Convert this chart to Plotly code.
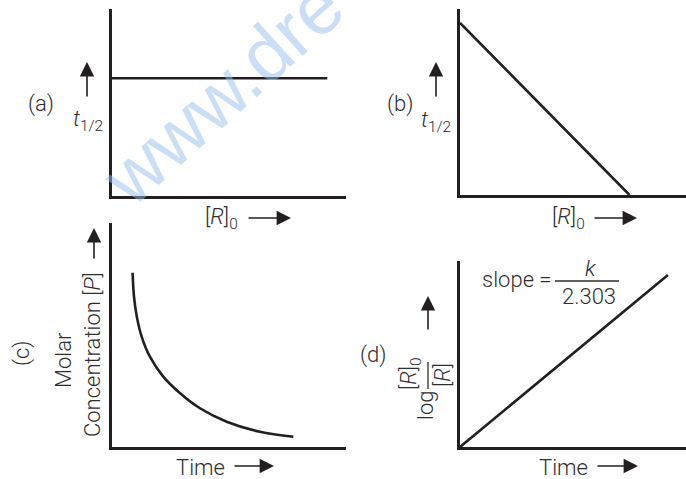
import plotly.graph_objects as go

W, H = 686, 479
LINE = '#231f20'
TXT = '#2e2e2e'
FONT = 'Roboto, Liberation Sans, Arial, sans-serif'

# (a) half-life does not depend on [R]0
a_conc = [0, 9.2]
a_thalf = [6.3, 6.3]
# (b) half-life falls with [R]0
b_conc = [0, 7.5]
b_thalf = [9.25, 0]
# (c) molar concentration vs time
c_time = [0.88, 0.94, 1.06, 1.27, 1.62, 2.19, 2.91, 3.76, 4.90, 6.32, 7.75]
c_conc = [7.78, 6.71, 5.82, 4.92, 4.03, 3.14, 2.40, 1.73, 1.13, 0.68, 0.46]
# (d) log([R]0/[R]) vs time
d_time = [0, 9.2]
d_log = [0, 9.25]

series = [(a_conc, a_thalf, False), (b_conc, b_thalf, False),
          (c_time, c_conc, True), (d_time, d_log, False)]

# panel boxes in pixels: (x0, x1), (ytop, ybottom)
boxes = [((112, 346), (9, 196)), ((460, 686), (9, 195)),
         ((112, 346), (223, 447)), ((460, 686), (261, 447))]


def px(x):
  return x / W


def py(y):
  return 1 - y / H


fig = go.Figure()
layout = {}
for i, ((xs, ys, smooth), ((x0, x1), (yt, yb))) in enumerate(zip(series, boxes)):
  n = '' if i == 0 else str(i + 1)
  fig.add_trace(go.Scatter(
    x=xs, y=ys, mode='lines', xaxis='x' + n, yaxis='y' + n,
    line=dict(color=LINE, width=2.6, shape='spline' if smooth else 'linear', smoothing=1.0),
    hoverinfo='skip', showlegend=False, cliponaxis=False))
  ax = dict(range=[0, 10], showgrid=False, zeroline=False, showticklabels=False,
            ticks='', showline=True, linecolor=LINE, linewidth=2.6, fixedrange=True)
  layout['xaxis' + n] = dict(ax, domain=[px(x0), px(x1)], anchor='y' + n)
  layout['yaxis' + n] = dict(ax, domain=[py(yb), py(yt)], anchor='x' + n)

fig.update_layout(**layout)


def label(text, x, y, angle=0, size=22):
  fig.add_annotation(text=text, x=px(x), y=py(y), xref='paper', yref='paper',
                     showarrow=False, textangle=angle, xanchor='center', yanchor='middle',
                     font=dict(size=size, color=TXT, family=FONT, weight=300))


def arrow(x0, y0, x1, y1):
  fig.add_annotation(text='', x=px(x1), y=py(y1), ax=x0 - x1, ay=y0 - y1,
                     xref='paper', yref='paper', showarrow=True, arrowhead=2,
                     arrowsize=1.8, arrowwidth=1.6, arrowcolor=LINE, standoff=0)


def bar(x0, y0, x1, y1):
  fig.add_shape(type='line', xref='paper', yref='paper', x0=px(x0), y0=py(y0),
                x1=px(x1), y1=py(y1), line=dict(color=TXT, width=1.3))


# watermark
fig.add_annotation(text='www.dre', x=px(222), y=py(92), xref='paper', yref='paper',
                   showarrow=False, textangle=-42, xanchor='center', yanchor='middle',
                   font=dict(size=76, color='rgba(150,190,235,0.5)', family='Liberation Sans'))

# (a)
label('(a)', 41, 104)
arrow(87, 98, 87, 62)
label('<i>t</i><sub>1/2</sub>', 88, 121)
label('[<i>R</i>]<sub>0</sub>', 221, 218)
arrow(247, 218, 291, 218)

# (b)
label('(b)', 400, 104)
arrow(436, 98, 436, 62)
label('<i>t</i><sub>1/2</sub>', 436, 122)
label('[<i>R</i>]<sub>0</sub>', 568, 218)
arrow(593, 218, 637, 218)

# (c)
label('(c)', 22, 353, angle=-90)
label('Molar', 63, 360, angle=-90)
label('Concentration [<i>P</i>]', 92, 355, angle=-90)
arrow(94, 260, 94, 228)
label('Time', 200, 467)
arrow(233, 466, 274, 466)

# (d)
label('(d)', 373, 355)
label('log', 425, 405, angle=-90)
label('[<i>R</i>]<sub>0</sub>', 410, 374, angle=-90)
bar(428, 362, 428, 389)
label('[<i>R</i>]', 442, 375, angle=-90)
arrow(428, 331, 428, 296)
label('slope =', 517, 279)
label('<i>k</i>', 590, 268)
bar(555, 281, 619, 281)
label('2.303', 589, 296)
label('Time', 563, 467)
arrow(596, 466, 638, 466)

fig.update_layout(width=W, height=H, margin=dict(l=0, r=0, t=0, b=0),
                  paper_bgcolor='white', plot_bgcolor='white', showlegend=False)

# drop the browser's default page margin so the figure sits at the top-left corner
fig.write_html('out.html', config={'displayModeBar': False},
               post_script="document.body.style.margin='0';")
